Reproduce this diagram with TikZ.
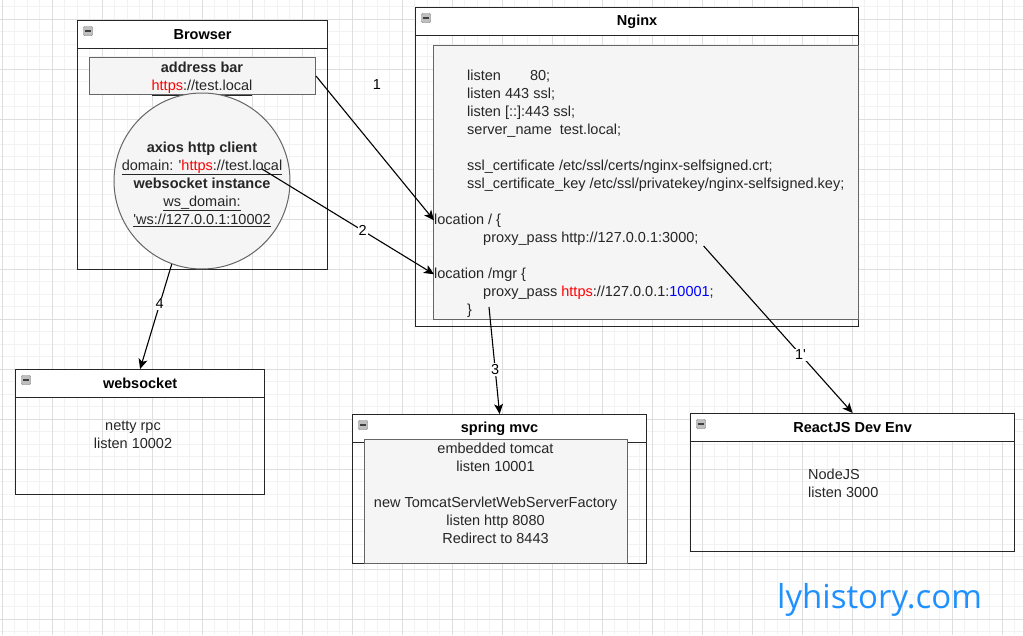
\documentclass[tikz,border=0pt]{standalone}
\usepackage{fontspec}
\setmainfont{Liberation Sans}
\newfontfamily\markfont{Open Sans}
\usetikzlibrary{positioning}
\usetikzlibrary{arrows.meta}
\usetikzlibrary{calc}
\definecolor{markblue}{RGB}{30,144,255}
\definecolor{boxgray}{RGB}{245,245,245}
\tikzstyle{lane}=[draw=black!85, line width=1.2pt, anchor=north west, inner sep=0pt]
\tikzstyle{lanehead}=[lane, fill=white, font=\fontsize{14.5}{18}\selectfont\bfseries]
\tikzstyle{collapse}=[draw=black!55, fill=black!25, minimum size=9pt, inner sep=0pt, rounded corners=1pt]
\tikzstyle{graybox}=[draw=black!60, fill=boxgray, line width=1pt, inner sep=0pt]
\tikzstyle{body}=[font=\fontsize{14.5}{18}\selectfont, text=black!85, inner sep=0pt]
\tikzstyle{conf}=[body, anchor=base west]
\tikzstyle{edge} = [draw, line width=1.1pt, -{Stealth[length=10pt,width=9pt,inset=2.5pt]}]
\tikzstyle{weight} = [font=\fontsize{14.5}{18}\selectfont, fill=white, inner sep=1pt]
\tikzstyle{minorgrid}=[draw=black!5, line width=0.8pt]
\tikzstyle{majorgrid}=[draw=black!13, line width=0.8pt]

\begin{document}
\begin{tikzpicture}[x=1pt, y=-1pt]
   \useasboundingbox (0,0) rectangle (1023,635);
   \begin{scope}[shift={(2,19)}]
      \draw[minorgrid, step=12.5pt] (-2,616) grid (1021,-19);
      \draw[majorgrid, step=50pt] (-2,616) grid (1021,-19);
   \end{scope}

    \foreach \x/\y/\w/\h/\name/\title in {77/20/250/249/browser/Browser, 415/7/443/319/nginx/Nginx, 15/369/249/125/websocket/websocket, 352/414/294/149/spring/spring mvc, 690/413/324/138/react/ReactJS Dev Env}
    {
        \node[lane, minimum width=\w pt, minimum height=\h pt] (\name) at (\x,\y) {};
        \node[lanehead, minimum width=\w pt, minimum height=28pt] (\name-head) at (\x,\y) {\title};
        \node[collapse] (\name-btn) at ([xshift=11pt,yshift=-11pt]\name.north west) {};
        \draw[black!75, line width=1.2pt] ([xshift=2pt]\name-btn.west) -- ([xshift=-2pt]\name-btn.east);
    }

   \node[graybox, anchor=north west, minimum width=425pt, minimum height=274pt] (conf) at (433,45) {};
   \node[graybox, anchor=north west, minimum width=226pt, minimum height=37pt] (addr) at (89,57) {};
   \node[body, align=center] (addrtext) at (202,79)
        {\textbf{address bar}\\\underline{\textcolor{red}{https}://test.local}};
   \node[graybox, circle, minimum size=176pt] (axios) at (202,181) {};
   \node[body, align=center] (axiostext) at (202,184)
        {\textbf{axios http client}\\\underline{domain: \textquotesingle\textcolor{red}{https}://test.local}\\\textbf{websocket instance}\\\underline{ws\_domain:}\\\underline{\textquotesingle ws://127.0.0.1:10002}};
   \node[graybox, anchor=north west, minimum width=263pt, minimum height=124pt] (tomcat) at (364,439) {};
   \node[body, align=center] (tomcattext) at (495.5,493)
        {embedded tomcat\\listen 10001\\\mbox{}\\new TomcatServletWebServerFactory\\listen http 8080\\Redirect to 8443};
   \node[body, align=center] (netty) at (133,435) {netty rpc\\listen 10002};
   \node[body, align=left, anchor=west] (nodejs) at (808,483) {NodeJS\\listen 3000};

    \foreach \x/\y/\name/\txt in {467/80/listen/{listen\hspace{29pt}80;}, 467/98/listenssl/{listen 443 ssl;}, 467/116/listensix/{listen [::]:443 ssl;}, 467/134/servername/{server\_name\ \ test.local;}, 467/170/sslcert/{ssl\_certificate /etc/ssl/certs/nginx-selfsigned.crt;}, 467/188/sslkey/{ssl\_certificate\_key /etc/ssl/privatekey/nginx-selfsigned.key;}, 434/224/locroot/{location / \{}, 483/242/proxyroot/{proxy\_pass http://127.0.0.1:3000;}, 434/278/locmgr/{location /mgr \{}, 483/296/proxymgr/{proxy\_pass \textcolor{red}{https}://127.0.0.1:\textcolor{blue}{10001};}, 467/314/closemgr/{\}}}
            \node[conf] (\name) at (\x,\y) {\txt};

   \coordinate (domainend) at (262,169);
   \draw[edge] (addr.east) -- node[weight, midway, xshift=2pt, yshift=64pt] {1} (locroot.west);
   \draw[edge] (domainend) -- node[weight, pos=0.585] {2} (locmgr.west);
   \draw[edge] ([xshift=6pt,yshift=-11pt]proxymgr.base west) -- node[weight, pos=0.585] {3} (spring-head.north);
   \draw[edge] (axios.250) -- node[weight, pos=0.38] {4} (websocket-head.north);
   \draw[edge] ([xshift=5pt,yshift=-4pt]proxyroot.base east) -- node[weight, pos=0.65] {1\textquotesingle} (react-head.north);

   \node[font=\markfont\fontsize{33}{36}\selectfont, text=markblue, anchor=base west, inner sep=0pt] (mark) at (777,608) {lyhistory.com};
\end{tikzpicture}
\end{document}
